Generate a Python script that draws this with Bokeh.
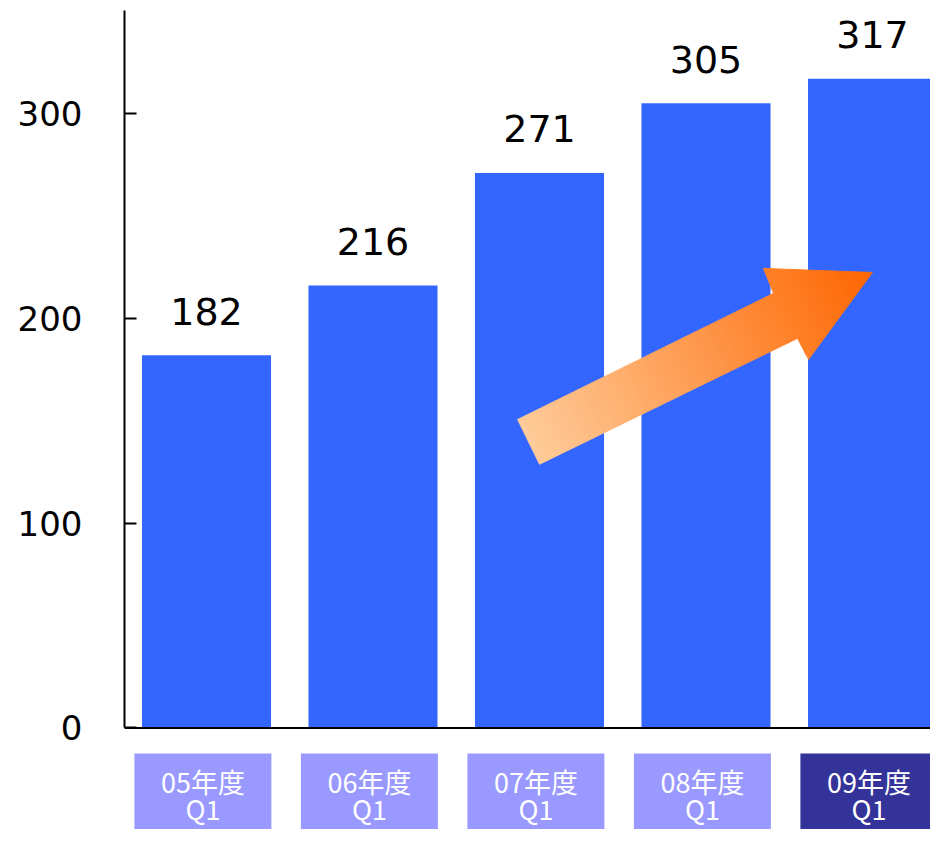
import numpy as np
from bokeh.plotting import figure
from bokeh.models import Range1d, Span, FixedTicker, ColumnDataSource
from bokeh.core.properties import value
from bokeh.embed import file_html
from bokeh.resources import INLINE

# ---- data ----
categories = ["05年度\nQ1", "06年度\nQ1", "07年度\nQ1", "08年度\nQ1", "09年度\nQ1"]
values = [182, 216, 271, 305, 317]
y_ticks = [0, 100, 200, 300]
box_colors = ["#9999ff", "#9999ff", "#9999ff", "#9999ff", "#333399"]

# decorative trend arrow outline (data coordinates: x = category index, y = value)
arrow_x = [1.868, 3.405, 3.345, 4.0, 3.616, 3.550, 2.0]
arrow_y = [150.6, 212.2, 224.4, 222.4, 179.9, 190.2, 128.7]

# ---- layout ----
W, H = 930, 829
left_border, top_border = 124, 10
frame_w = W - left_border
frame_h = H - top_border
px_per_x = 166.5
x_start = -82 / px_per_x
x_end = x_start + frame_w / px_per_x
y_end = 350.3
px_per_y = 2.048
y_start = y_end - frame_h / px_per_y

xs = list(range(len(categories)))

p = figure(width=W, height=H, output_backend="svg", toolbar_location=None,
           x_range=Range1d(x_start, x_end), y_range=Range1d(y_start, y_end),
           min_border_left=left_border, min_border_right=0,
           min_border_top=top_border, min_border_bottom=0)
p.outline_line_color = None
p.grid.visible = False
p.xaxis.visible = False
p.background_fill_color = "white"
p.border_fill_color = "white"

yax = p.yaxis[0]
yax.bounds = (0, y_end)
yax.ticker = FixedTicker(ticks=y_ticks)
yax.minor_tick_line_color = None
yax.major_tick_in = 12
yax.major_tick_out = 0
yax.major_tick_line_width = 2
yax.axis_line_width = 2
yax.axis_line_color = "black"
yax.major_tick_line_color = "black"
yax.major_label_standoff = 42
yax.major_label_text_font = "DejaVu Sans"
yax.major_label_text_font_size = "34px"
yax.major_label_text_color = "black"

# bars
src = ColumnDataSource(dict(x=xs, top=values, label=[str(v) for v in values]))
p.vbar(x="x", top="top", bottom=0, width=0.775, source=src,
       fill_color="#3366ff", line_color=None)

# value labels
p.text(x="x", y="top", text="label", source=src, text_align="center",
       text_baseline="middle", y_offset=-44,
       text_font=value("DejaVu Sans"), text_font_size="38px", text_color="black")

# baseline axis
p.add_layout(Span(location=0, dimension="width", line_color="black", line_width=2))

# category boxes below the axis
box_top = -25.5 / px_per_y
box_bottom = y_start - 20
box_x = [x - 3.6 / px_per_x for x in xs]
bsrc = ColumnDataSource(dict(x=box_x, c=box_colors,
                             l1=[c.split("\n")[0] for c in categories],
                             l2=[c.split("\n")[1] for c in categories]))
p.vbar(x="x", top=box_top, bottom=box_bottom, width=137 / px_per_x, source=bsrc,
       fill_color="c", line_color=None)
p.text(x="x", y=0, text="l1", source=bsrc, text_align="center", text_baseline="middle",
       y_offset=54, text_font=value("Noto Sans CJK JP"), text_font_size="27px",
       text_color="white")
p.text(x="x", y=0, text="l2", source=bsrc, text_align="center", text_baseline="middle",
       y_offset=81, text_font=value("Noto Sans CJK JP"), text_font_size="27px",
       text_color="white")

# gradient arrow: slice the outline into bands along its direction
poly = list(zip(arrow_x, arrow_y))
d = np.array([344.0, 169.0])
d /= np.linalg.norm(d)

def tval(pt):
    return d[0] * pt[0] * px_per_x + d[1] * pt[1] * px_per_y

def clip(polygon, lo, hi):
    def clip_half(pg, f):
        out = []
        n = len(pg)
        for i in range(n):
            a, b = pg[i], pg[(i + 1) % n]
            fa, fb = f(a), f(b)
            if fa >= 0:
                out.append(a)
            if (fa >= 0) != (fb >= 0):
                s = fa / (fa - fb)
                out.append((a[0] + s * (b[0] - a[0]), a[1] + s * (b[1] - a[1])))
        return out
    pg = clip_half(polygon, lambda q: tval(q) - lo)
    if pg:
        pg = clip_half(pg, lambda q: hi - tval(q))
    return pg

ts = [tval(q) for q in poly]
tmin, tmax = min(ts), max(ts)
n_bands = 80
c0 = np.array([255, 204, 153])
c1 = np.array([255, 102, 0])
band_xs, band_ys, band_cs = [], [], []
edges = np.linspace(tmin, tmax, n_bands + 1)
for i in range(n_bands):
    pg = clip(poly, edges[i], edges[i + 1])
    if len(pg) < 3:
        continue
    f = (i + 0.5) / n_bands
    col = (c0 + (c1 - c0) * f).round().astype(int)
    band_xs.append([q[0] for q in pg])
    band_ys.append([q[1] for q in pg])
    band_cs.append("#%02x%02x%02x" % tuple(col))
p.patches(band_xs, band_ys, fill_color=band_cs, line_color=band_cs, line_width=0.8)

open("out.html", "w").write(file_html(p, INLINE))
